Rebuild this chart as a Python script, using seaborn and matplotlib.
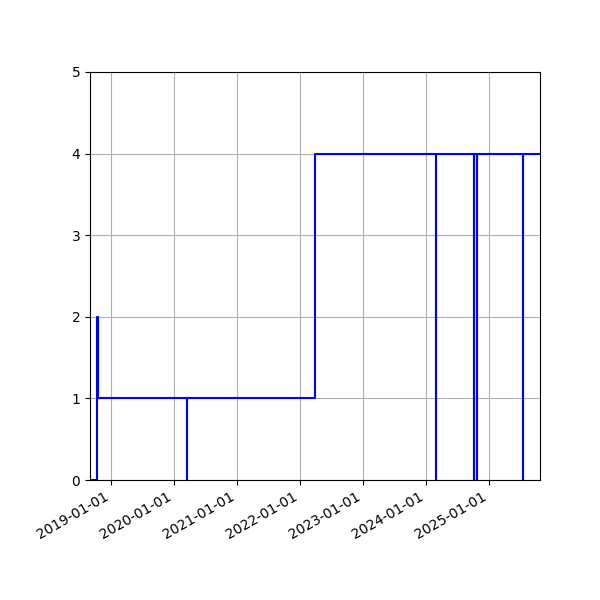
import matplotlib
matplotlib.use("Agg")
import matplotlib.pyplot as plt
import matplotlib.dates as mdates
import seaborn as sns
import pandas as pd

dates = ["2018-09-01", "2018-10-14", "2018-10-15", "2020-03-16", "2020-03-17",
         "2022-03-29", "2024-02-28", "2024-02-29", "2024-10-06", "2024-10-07",
         "2024-10-23", "2024-10-24", "2025-07-14", "2025-07-15", "2025-10-23"]
values = [0, 2, 1, 0, 1, 4, 0, 4, 0, 4, 0, 4, 0, 4, 4]

df = pd.DataFrame({"date": pd.to_datetime(dates), "value": values})

fig = plt.figure(figsize=(6, 6), dpi=100)
ax = fig.add_axes([0.15, 0.2, 0.75, 0.68])
sns.lineplot(data=df, x="date", y="value", ax=ax, color="blue",
             drawstyle="steps-post", linewidth=1.5, estimator=None)
ax.set_xlim(df["date"].min(), df["date"].max())
ax.set_ylim(0, 5)
ax.set_xlabel("")
ax.set_ylabel("")
ax.grid(True, color="#b0b0b0", linewidth=0.8)
ax.set_axisbelow(True)
ax.xaxis.set_major_locator(mdates.YearLocator())
ax.xaxis.set_major_formatter(mdates.DateFormatter("%Y-%m-%d"))
for lbl in ax.get_xticklabels():
    lbl.set_rotation(30)
    lbl.set_ha("right")
fig.savefig("out.png", dpi=100)
